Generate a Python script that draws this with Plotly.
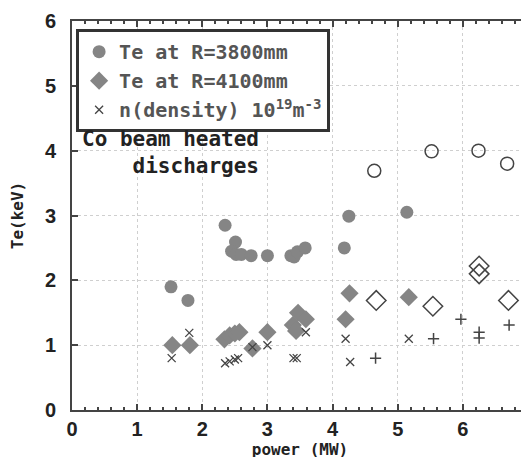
import plotly.graph_objects as go

# Te at R=3800mm (filled circles)
te38_x = [1.52, 1.78, 2.35, 2.51, 2.45, 2.52, 2.6, 2.75, 3.0, 3.36, 3.41, 3.46, 3.58, 4.18, 4.25, 5.14]
te38_y = [1.90, 1.69, 2.85, 2.59, 2.45, 2.40, 2.40, 2.38, 2.38, 2.38, 2.36, 2.44, 2.50, 2.50, 2.99, 3.05]
# open circles
te38o_x = [4.64, 5.52, 6.24, 6.68]
te38o_y = [3.69, 3.99, 4.00, 3.80]

# Te at R=4100mm (filled diamonds)
te41_x = [1.54, 1.81, 2.34, 2.42, 2.5, 2.57, 2.77, 3.0, 3.39, 3.44, 3.47, 3.59, 4.2, 4.26, 5.17]
te41_y = [1.00, 1.00, 1.09, 1.15, 1.18, 1.20, 0.95, 1.20, 1.31, 1.22, 1.50, 1.40, 1.40, 1.80, 1.74]
# open diamonds
te41o_x = [4.67, 5.54, 6.25, 6.25, 6.70]
te41o_y = [1.69, 1.60, 2.22, 2.10, 1.69]

# density (crosses)
n_x = [1.53, 1.80, 2.35, 2.42, 2.5, 2.55, 2.77, 3.0, 3.40, 3.45, 3.59, 4.20, 4.27, 5.17]
n_y = [0.80, 1.19, 0.72, 0.75, 0.78, 0.80, 0.97, 1.00, 0.80, 0.80, 1.20, 1.10, 0.74, 1.10]
# density (plus)
np_x = [4.66, 5.55, 5.97, 6.25, 6.25, 6.71]
np_y = [0.80, 1.10, 1.40, 1.20, 1.11, 1.31]

GRAY = "#858585"
DARK = "#444444"
MONO = "DejaVu Sans Mono"

fig = go.Figure()
fig.add_trace(go.Scatter(x=te38_x, y=te38_y, mode="markers", name="Te at R=3800mm",
                         marker=dict(symbol="circle", size=13, color=GRAY)))
fig.add_trace(go.Scatter(x=te41_x, y=te41_y, mode="markers", name="Te at R=4100mm",
                         marker=dict(symbol="diamond", size=14, color=GRAY)))
fig.add_trace(go.Scatter(x=n_x, y=n_y, mode="markers",
                         name="n(density) 10<sup>19</sup>m<sup>-3</sup>",
                         marker=dict(symbol="x-thin", size=8, color=DARK,
                                     line=dict(width=1.3, color=DARK))))
fig.add_trace(go.Scatter(x=te38o_x, y=te38o_y, mode="markers", showlegend=False,
                         marker=dict(symbol="circle-open", size=13, color=DARK,
                                     line=dict(width=1.5, color=DARK))))
fig.add_trace(go.Scatter(x=te41o_x, y=te41o_y, mode="markers", showlegend=False,
                         marker=dict(symbol="diamond-open", size=15, color=DARK,
                                     line=dict(width=1.5, color=DARK))))
fig.add_trace(go.Scatter(x=np_x, y=np_y, mode="markers", showlegend=False,
                         marker=dict(symbol="cross-thin", size=8, color=DARK,
                                     line=dict(width=1.5, color=DARK))))

fig.add_annotation(x=0.12, y=4.40, xref="x", yref="y", xanchor="left", yanchor="top",
                   text="Co beam heated<br>discharges", align="right", showarrow=False,
                   font=dict(family=MONO, size=21, color="#222222", weight="bold"))

axis_common = dict(showline=True, linecolor=DARK, linewidth=2, mirror="ticks",
                   ticks="inside", ticklen=6, tickcolor=DARK, tickwidth=1.5,
                   showgrid=True, gridcolor="#cfcfcf", griddash="dot", gridwidth=1,
                   zeroline=False, dtick=1, automargin=False,
                   tickfont=dict(family="Liberation Sans", size=20, color="#222222", weight="bold"))

fig.update_xaxes(range=[0, 7], **axis_common, ticklabelstandoff=0,
                 minor=dict(dtick=0.2, ticks="inside", ticklen=3, tickcolor=DARK, showgrid=False),
                 title=dict(text="power (MW)", standoff=4,
                            font=dict(family=MONO, size=16, color="#222222", weight="bold")))
fig.update_yaxes(range=[0, 6], **axis_common, ticklabelstandoff=10,
                 title=dict(text="Te(keV)", standoff=18,
                            font=dict(family=MONO, size=16, color="#222222", weight="bold")))

fig.update_layout(
    width=529, height=457,
    margin=dict(l=64, r=9, t=13, b=55),
    plot_bgcolor="white", paper_bgcolor="white",
    legend=dict(x=0.009, y=0.979, xanchor="left", yanchor="top",
                bgcolor="white", bordercolor="#333333", borderwidth=3,
                font=dict(family=MONO, size=20, color="#555555", weight="bold"),
                tracegroupgap=0, itemwidth=30),
)

fig.write_html("out.html")
